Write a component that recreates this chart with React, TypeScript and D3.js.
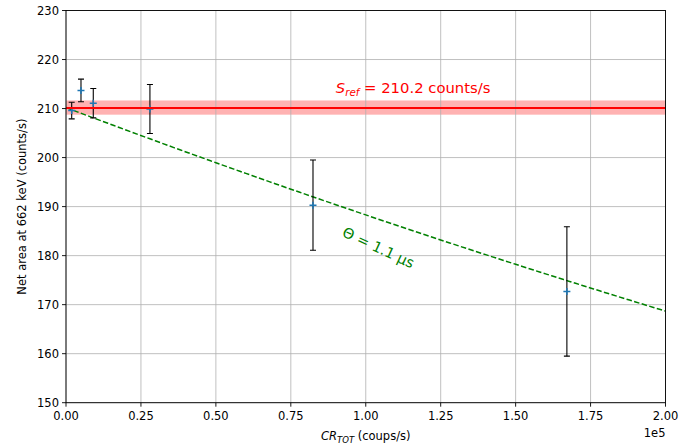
import React from 'react';
import * as d3 from 'd3';

// measured count rates (counts/s) and net area at 662 keV
const countRates = [1900, 5000, 9100, 28000, 82400, 167100];
const netAreas = [209.6, 213.7, 211.1, 209.9, 190.3, 172.7];
const netAreaErrors = [1.7, 2.3, 3.0, 5.0, 9.2, 13.2];

// reference value and dead-time fit
const sRef = 210.2;
const sRefError = 1.45;
const thetaUs = 1.1;

const xTicks = [0, 25000, 50000, 75000, 100000, 125000, 150000, 175000, 200000];
const yTicks = [150, 160, 170, 180, 190, 200, 210, 220, 230];

const W = 696;
const H = 448;
const margin = { left: 66, right: 30.5, top: 10.5, bottom: 45.3 };
const FONT = 'DejaVu Sans, sans-serif';

const App = () => {
    const x = d3.scaleLinear().domain([0, 200000]).range([margin.left, W - margin.right]);
    const y = d3.scaleLinear().domain([150, 230]).range([H - margin.bottom, margin.top]);

    const x0 = x.range()[0];
    const x1 = x.range()[1];
    const y0 = y.range()[0];
    const y1 = y.range()[1];

    // paralyzable dead-time model S = Sref * exp(-CR * theta)
    const modelX = d3.range(0, 200001, 2000);
    const modelLine = d3
        .line<number>()
        .x((d) => x(d))
        .y((d) => y(sRef * Math.exp(-d * thetaUs * 1e-6)));

    const labelCx = x(103500);
    const labelCy = y(180.7);
    const refY = Math.round(y(sRef));

    return (
        <svg width={W} height={H} style={{ position: 'absolute', left: 0, top: 0, background: '#fff' }} fontFamily={FONT}>
            <defs>
                <clipPath id="plot">
                    <rect x={x0} y={y1} width={x1 - x0} height={y0 - y1} />
                </clipPath>
            </defs>

            {/* reference band */}
            <rect
                x={x0}
                width={x1 - x0}
                y={y(sRef + sRefError)}
                height={y(sRef - sRefError) - y(sRef + sRefError)}
                fill="red"
                fillOpacity={0.3}
            />

            {/* grid */}
            <g stroke="#b0b0b0" strokeWidth={0.8}>
                {xTicks.map((t) => (
                    <line key={'gx' + t} x1={x(t)} x2={x(t)} y1={y1} y2={y0} />
                ))}
                {yTicks.map((t) => (
                    <line key={'gy' + t} x1={x0} x2={x1} y1={y(t)} y2={y(t)} />
                ))}
            </g>

            <g clipPath="url(#plot)">
                {/* model */}
                <path d={modelLine(modelX) || ''} fill="none" stroke="green" strokeWidth={1.5} strokeDasharray="5.5,2.4" />

                {/* error bars */}
                {countRates.map((cr, i) => {
                    const cx = x(cr);
                    const top = y(netAreas[i] + netAreaErrors[i]);
                    const bot = y(netAreas[i] - netAreaErrors[i]);
                    const cy = y(netAreas[i]);
                    return (
                        <g key={'pt' + i}>
                            <g stroke="#000" strokeWidth={1.1}>
                                <line x1={cx} x2={cx} y1={top} y2={bot} />
                                <line x1={cx - 3} x2={cx + 3} y1={top} y2={top} />
                                <line x1={cx - 3} x2={cx + 3} y1={bot} y2={bot} />
                            </g>
                            <g stroke="#1f77b4" strokeWidth={1.5}>
                                <line x1={cx - 3.5} x2={cx + 3.5} y1={cy} y2={cy} />
                                <line x1={cx} x2={cx} y1={cy - 3.5} y2={cy + 3.5} />
                            </g>
                        </g>
                    );
                })}

                {/* reference line */}
                <line x1={x0} x2={x1} y1={refY} y2={refY} stroke="#ff0000" strokeWidth={2} />
            </g>

            {/* annotations */}
            <text x={x(90000)} y={y(213.1)} fontSize={14.8} fill="red">
                <tspan fontStyle="italic">S</tspan>
                <tspan fontStyle="italic" fontSize={10.3} dy={3}>ref</tspan>
                <tspan dy={-3}> = {sRef.toFixed(1)} counts/s</tspan>
            </text>
            <text
                x={labelCx}
                y={labelCy}
                fontSize={14.5}
                fill="green"
                textAnchor="middle"
                transform={`rotate(25, ${labelCx}, ${labelCy})`}
            >
                Θ = {thetaUs} μs
            </text>

            {/* frame */}
            <rect x={x0} y={y1} width={x1 - x0} height={y0 - y1} fill="none" stroke="#000" strokeWidth={0.9} />

            {/* x axis */}
            <g fontSize={11.5} fill="#000">
                {xTicks.map((t) => (
                    <g key={'xt' + t}>
                        <line x1={x(t)} x2={x(t)} y1={y0} y2={y0 + 4} stroke="#000" strokeWidth={0.9} />
                        <text x={x(t)} y={y0 + 17} textAnchor="middle">
                            {(t / 1e5).toFixed(2)}
                        </text>
                    </g>
                ))}
                <text x={x1} y={437} textAnchor="end">1e5</text>
            </g>
            <text x={(x0 + x1) / 2} y={440} fontSize={11.5} textAnchor="middle">
                <tspan fontStyle="italic">CR</tspan>
                <tspan fontStyle="italic" fontSize={8.5} dy={2.5}>TOT</tspan>
                <tspan dy={-2.5}> (coups/s)</tspan>
            </text>

            {/* y axis */}
            <g fontSize={11.5} fill="#000">
                {yTicks.map((t) => (
                    <g key={'yt' + t}>
                        <line x1={x0 - 4} x2={x0} y1={y(t)} y2={y(t)} stroke="#000" strokeWidth={0.9} />
                        <text x={x0 - 7} y={y(t) + 4} textAnchor="end">
                            {t}
                        </text>
                    </g>
                ))}
            </g>
            <text
                x={26}
                y={(y0 + y1) / 2}
                fontSize={11.5}
                textAnchor="middle"
                transform={`rotate(-90, 26, ${(y0 + y1) / 2})`}
            >
                Net area at 662 keV (counts/s)
            </text>
        </svg>
    );
};

export default App;
